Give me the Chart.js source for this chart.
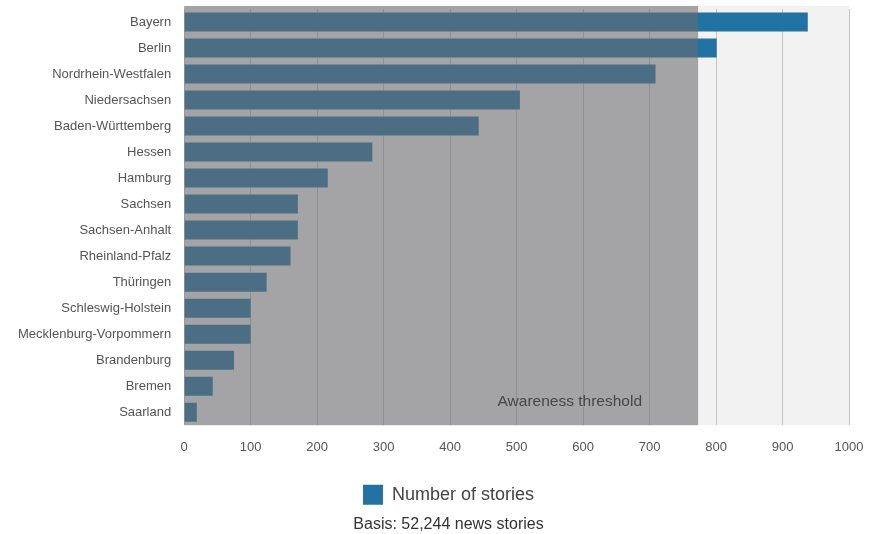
<!DOCTYPE html>
<html>
<head>
<meta charset="utf-8">
<script src="https://cdn.jsdelivr.net/npm/chart.js@4"></script>
<style>
    body { margin: 0; background: #fff; }
    #wrap { width: 879px; height: 534px; }
</style>
</head>
<body>
<div id="wrap"><canvas id="chart"></canvas></div>
<script>
// Stories per federal state
const states = ['Bayern', 'Berlin', 'Nordrhein-Westfalen', 'Niedersachsen', 'Baden-Württemberg', 'Hessen',
    'Hamburg', 'Sachsen', 'Sachsen-Anhalt', 'Rheinland-Pfalz', 'Thüringen', 'Schleswig-Holstein',
    'Mecklenburg-Vorpommern', 'Brandenburg', 'Bremen', 'Saarland'];
const stories = [938, 801, 709, 505, 443, 283, 216, 171, 171, 160, 124, 100, 100, 75, 43, 19];
const threshold = 773;
const thresholdLabel = 'Awareness threshold';
const labelAt = 580;

const font = "'Liberation Sans', Arial, sans-serif";
const topExtra = 3; // plot frame starts a little above the first bar slot

// plot background + shaded "below threshold" zone
const thresholdPlugin = {
    id: 'threshold',
    beforeDraw(chart) {
        const a = chart.chartArea;
        const ctx = chart.ctx;
        ctx.save();
        ctx.fillStyle = '#f2f2f2';
        ctx.fillRect(a.left, a.top - topExtra, a.right - a.left, a.bottom - a.top + topExtra);
        ctx.restore();
    },
    afterDatasetsDraw(chart) {
        const a = chart.chartArea;
        const x = chart.scales.x;
        const ctx = chart.ctx;
        const xt = x.getPixelForValue(threshold);
        ctx.save();
        ctx.fillStyle = 'rgba(107, 107, 110, 0.58)';
        ctx.fillRect(a.left, a.top - topExtra, xt - a.left, a.bottom - a.top + topExtra);
        ctx.fillStyle = '#474747';
        ctx.font = '15.5px ' + font;
        ctx.textAlign = 'center';
        ctx.textBaseline = 'middle';
        ctx.fillText(thresholdLabel, x.getPixelForValue(labelAt), a.bottom - 23);
        ctx.restore();
    }
};

new Chart(document.getElementById('chart'), {
    type: 'bar',
    data: {
        labels: states,
        datasets: [{
            label: 'Number of stories',
            data: stories,
            backgroundColor: '#2173a4',
            barPercentage: 0.73,
            categoryPercentage: 1
        }]
    },
    options: {
        indexAxis: 'y',
        responsive: true,
        maintainAspectRatio: false,
        animation: false,
        layout: { padding: { left: 18, right: 0, top: 9, bottom: 0 } },
        scales: {
            x: {
                min: 0,
                max: 1000,
                ticks: {
                    stepSize: 100,
                    color: '#555',
                    font: { family: font, size: 13 },
                    padding: 14,
                    callback: v => v
                },
                grid: { color: '#c4c4c4', lineWidth: 1, drawTicks: false },
                border: { display: false },
                afterFit(scale) {
                    scale.height += 4;
                    scale.paddingRight = 30;
                }
            },
            y: {
                ticks: { color: '#555', font: { family: font, size: 13 }, padding: 13 },
                grid: { display: false, drawTicks: false },
                border: { display: false },
                afterFit(scale) {
                    scale.width -= 13;
                    scale.paddingTop = 0;
                    scale.paddingBottom = 0;
                }
            }
        },
        plugins: {
            legend: {
                position: 'bottom',
                labels: {
                    boxWidth: 20,
                    boxHeight: 20,
                    color: '#444',
                    font: { family: font, size: 18 },
                    padding: 12
                }
            },
            subtitle: {
                display: true,
                position: 'bottom',
                text: 'Basis: 52,244 news stories',
                color: '#333',
                font: { family: font, size: 16, weight: 'normal' },
                padding: { top: 0, bottom: 0 }
            },
            tooltip: { enabled: false }
        }
    },
    plugins: [thresholdPlugin]
});
</script>
</body>
</html>
